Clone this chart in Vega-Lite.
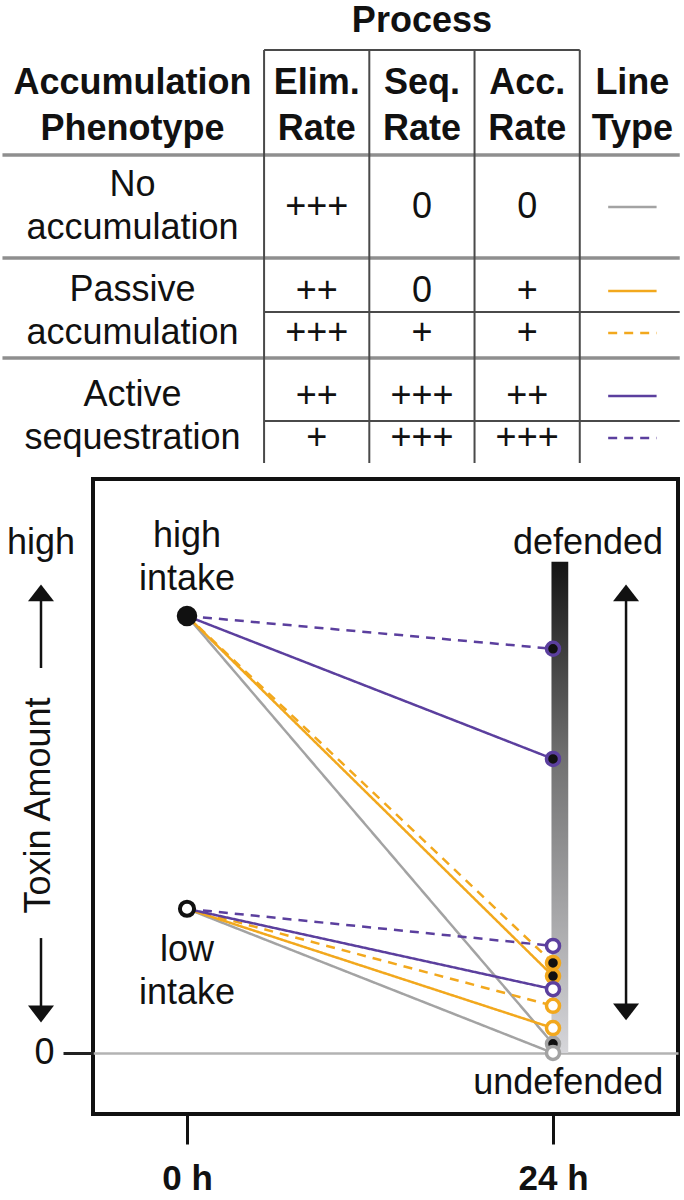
{
  "$schema": "https://vega.github.io/schema/vega-lite/v6.json",
  "padding": 0,
  "bounds": "flush",
  "spacing": 8,
  "background": "white",
  "config": {
    "font": "Liberation Sans",
    "view": {"stroke": null},
    "text": {"fontSize": 36, "color": "#111"},
    "axis": {"labelFont": "Liberation Sans", "titleFont": "Liberation Sans"}
  },
  "datasets": {
    "table": [
      {"phenotype": "No accumulation", "label": "No\naccumulation", "style": "solid", "slot": 1, "elim": "+++", "seq": "0", "acc": "0"},
      {"phenotype": "Passive accumulation", "label": "Passive\naccumulation", "style": "solid", "slot": 2, "elim": "++", "seq": "0", "acc": "+"},
      {"phenotype": "Passive accumulation", "label": "Passive\naccumulation", "style": "dashed", "slot": 2.5, "elim": "+++", "seq": "+", "acc": "+"},
      {"phenotype": "Active sequestration", "label": "Active\nsequestration", "style": "solid", "slot": 3.25, "elim": "++", "seq": "+++", "acc": "++"},
      {"phenotype": "Active sequestration", "label": "Active\nsequestration", "style": "dashed", "slot": 3.75, "elim": "+", "seq": "+++", "acc": "+++"}
    ],
    "lines": [
      {"phenotype": "No accumulation", "style": "solid", "intake": "high", "time": 0, "toxin": 10},
      {"phenotype": "No accumulation", "style": "solid", "intake": "high", "time": 24, "toxin": 0.21},
      {"phenotype": "No accumulation", "style": "solid", "intake": "low", "time": 0, "toxin": 3.3},
      {"phenotype": "No accumulation", "style": "solid", "intake": "low", "time": 24, "toxin": 0},
      {"phenotype": "Passive accumulation", "style": "solid", "intake": "high", "time": 0, "toxin": 10},
      {"phenotype": "Passive accumulation", "style": "solid", "intake": "high", "time": 24, "toxin": 1.76},
      {"phenotype": "Passive accumulation", "style": "solid", "intake": "low", "time": 0, "toxin": 3.3},
      {"phenotype": "Passive accumulation", "style": "solid", "intake": "low", "time": 24, "toxin": 0.57},
      {"phenotype": "Passive accumulation", "style": "dashed", "intake": "high", "time": 0, "toxin": 10},
      {"phenotype": "Passive accumulation", "style": "dashed", "intake": "high", "time": 24, "toxin": 2.06},
      {"phenotype": "Passive accumulation", "style": "dashed", "intake": "low", "time": 0, "toxin": 3.3},
      {"phenotype": "Passive accumulation", "style": "dashed", "intake": "low", "time": 24, "toxin": 1.08},
      {"phenotype": "Active sequestration", "style": "solid", "intake": "high", "time": 0, "toxin": 10},
      {"phenotype": "Active sequestration", "style": "solid", "intake": "high", "time": 24, "toxin": 6.73},
      {"phenotype": "Active sequestration", "style": "solid", "intake": "low", "time": 0, "toxin": 3.3},
      {"phenotype": "Active sequestration", "style": "solid", "intake": "low", "time": 24, "toxin": 1.46},
      {"phenotype": "Active sequestration", "style": "dashed", "intake": "high", "time": 0, "toxin": 10},
      {"phenotype": "Active sequestration", "style": "dashed", "intake": "high", "time": 24, "toxin": 9.25},
      {"phenotype": "Active sequestration", "style": "dashed", "intake": "low", "time": 0, "toxin": 3.3},
      {"phenotype": "Active sequestration", "style": "dashed", "intake": "low", "time": 24, "toxin": 2.45}
    ]
  },
  "vconcat": [
    {
      "width": 585,
      "height": 470,
      "layer": [
        {
          "data": {"values": [{}]},
          "mark": {"type": "rule", "color": "white", "strokeWidth": 1},
          "encoding": {
            "x": {"datum": 0, "type": "quantitative", "scale": {"domain": [-1.1257, 4.4335], "nice": false, "zero": false}, "axis": null},
            "x2": {"datum": 1},
            "y": {"datum": -1.4524, "type": "quantitative", "scale": {"domain": [-1.4524, 4.1429], "reverse": true, "nice": false, "zero": false}, "axis": null}
          }
        },
        {
          "data": {"values": [{}]},
          "mark": {"type": "rule", "color": "#8f8f8f", "strokeWidth": 3.5},
          "encoding": {"x": {"datum": -1.986, "type": "quantitative"}, "x2": {"datum": 4.45}, "y": {"datum": 0.381, "type": "quantitative"}}
        },
        {
          "data": {"values": [{}]},
          "mark": {"type": "rule", "color": "#8f8f8f", "strokeWidth": 3.5},
          "encoding": {"x": {"datum": -1.986, "type": "quantitative"}, "x2": {"datum": 4.45}, "y": {"datum": 1.607, "type": "quantitative"}}
        },
        {
          "data": {"values": [{}]},
          "mark": {"type": "rule", "color": "#8f8f8f", "strokeWidth": 3.5},
          "encoding": {"x": {"datum": -1.986, "type": "quantitative"}, "x2": {"datum": 4.45}, "y": {"datum": 2.798, "type": "quantitative"}}
        },
        {
          "data": {"values": [{}]},
          "mark": {"type": "rule", "color": "#4a4a4a", "strokeWidth": 2},
          "encoding": {"x": {"datum": 0.5, "type": "quantitative"}, "x2": {"datum": 4.45}, "y": {"datum": 2.25, "type": "quantitative"}}
        },
        {
          "data": {"values": [{}]},
          "mark": {"type": "rule", "color": "#4a4a4a", "strokeWidth": 2},
          "encoding": {"x": {"datum": 0.5, "type": "quantitative"}, "x2": {"datum": 4.45}, "y": {"datum": 3.548, "type": "quantitative"}}
        },
        {
          "data": {"values": [{}]},
          "mark": {"type": "rule", "color": "#4a4a4a", "strokeWidth": 2},
          "encoding": {"x": {"datum": 0.5, "type": "quantitative"}, "x2": {"datum": 3.5}, "y": {"datum": -0.869, "type": "quantitative"}}
        },
        {
          "data": {"values": [{}]},
          "mark": {"type": "rule", "color": "#4a4a4a", "strokeWidth": 2},
          "encoding": {"x": {"datum": 0.5, "type": "quantitative"}, "y": {"datum": -0.869, "type": "quantitative"}, "y2": {"datum": 4.048}}
        },
        {
          "data": {"values": [{}]},
          "mark": {"type": "rule", "color": "#4a4a4a", "strokeWidth": 2},
          "encoding": {"x": {"datum": 1.5, "type": "quantitative"}, "y": {"datum": -0.869, "type": "quantitative"}, "y2": {"datum": 4.048}}
        },
        {
          "data": {"values": [{}]},
          "mark": {"type": "rule", "color": "#4a4a4a", "strokeWidth": 2},
          "encoding": {"x": {"datum": 2.5, "type": "quantitative"}, "y": {"datum": -0.869, "type": "quantitative"}, "y2": {"datum": 4.048}}
        },
        {
          "data": {"values": [{}]},
          "mark": {"type": "rule", "color": "#4a4a4a", "strokeWidth": 2},
          "encoding": {"x": {"datum": 3.5, "type": "quantitative"}, "y": {"datum": -0.869, "type": "quantitative"}, "y2": {"datum": 4.048}}
        },
        {
          "data": {"values": [{}]},
          "mark": {"type": "text", "text": "Process", "fontWeight": "bold", "fontSize": 36},
          "encoding": {"x": {"datum": 2, "type": "quantitative"}, "y": {"datum": -1.214, "type": "quantitative"}}
        },
        {
          "data": {"values": [{}]},
          "mark": {"type": "text", "text": "Accumulation\nPhenotype", "lineBreak": "\n", "lineHeight": 46, "dy": -23, "fontWeight": "bold", "fontSize": 36},
          "encoding": {"x": {"datum": -0.75, "type": "quantitative"}, "y": {"datum": -0.2, "type": "quantitative"}}
        },
        {
          "data": {"values": [{}]},
          "mark": {"type": "text", "text": "Elim.\nRate", "lineBreak": "\n", "lineHeight": 46, "dy": -23, "fontWeight": "bold", "fontSize": 36},
          "encoding": {"x": {"datum": 1, "type": "quantitative"}, "y": {"datum": -0.2, "type": "quantitative"}}
        },
        {
          "data": {"values": [{}]},
          "mark": {"type": "text", "text": "Seq.\nRate", "lineBreak": "\n", "lineHeight": 46, "dy": -23, "fontWeight": "bold", "fontSize": 36},
          "encoding": {"x": {"datum": 2, "type": "quantitative"}, "y": {"datum": -0.2, "type": "quantitative"}}
        },
        {
          "data": {"values": [{}]},
          "mark": {"type": "text", "text": "Acc.\nRate", "lineBreak": "\n", "lineHeight": 46, "dy": -23, "fontWeight": "bold", "fontSize": 36},
          "encoding": {"x": {"datum": 3, "type": "quantitative"}, "y": {"datum": -0.2, "type": "quantitative"}}
        },
        {
          "data": {"values": [{}]},
          "mark": {"type": "text", "text": "Line\nType", "lineBreak": "\n", "lineHeight": 46, "dy": -23, "fontWeight": "bold", "fontSize": 36},
          "encoding": {"x": {"datum": 4, "type": "quantitative"}, "y": {"datum": -0.2, "type": "quantitative"}}
        },
        {
          "data": {"name": "table"},
          "mark": {"type": "text", "fontSize": 36},
          "encoding": {"x": {"datum": 1, "type": "quantitative"}, "y": {"field": "slot", "type": "quantitative"}, "text": {"field": "elim"}}
        },
        {
          "data": {"name": "table"},
          "mark": {"type": "text", "fontSize": 36},
          "encoding": {"x": {"datum": 2, "type": "quantitative"}, "y": {"field": "slot", "type": "quantitative"}, "text": {"field": "seq"}}
        },
        {
          "data": {"name": "table"},
          "mark": {"type": "text", "fontSize": 36},
          "encoding": {"x": {"datum": 3, "type": "quantitative"}, "y": {"field": "slot", "type": "quantitative"}, "text": {"field": "acc"}}
        },
        {
          "data": {"name": "table"},
          "transform": [{"aggregate": [{"op": "mean", "field": "slot", "as": "slot"}], "groupby": ["label"]}],
          "mark": {"type": "text", "fontSize": 36, "lineBreak": "\n", "lineHeight": 43, "dy": -21.5},
          "encoding": {"x": {"datum": -0.75, "type": "quantitative"}, "y": {"field": "slot", "type": "quantitative"}, "text": {"field": "label"}}
        },
        {
          "data": {"name": "table"},
          "mark": {"type": "rule", "strokeWidth": 2.5},
          "encoding": {
            "x": {"datum": 3.77, "type": "quantitative"},
            "x2": {"datum": 4.23},
            "y": {"field": "slot", "type": "quantitative"},
            "color": {"field": "phenotype", "type": "nominal", "scale": {"domain": ["No accumulation", "Passive accumulation", "Active sequestration"], "range": ["#a3a3a3", "#f2a81d", "#5b3f9e"]}, "legend": null},
            "strokeDash": {"field": "style", "type": "nominal", "scale": {"domain": ["solid", "dashed"], "range": [[1, 0], [9, 7]]}, "legend": null}
          }
        }
      ]
    },
    {
      "width": 585,
      "height": 635,
      "view": {"stroke": "#111", "strokeWidth": 4},
      "layer": [
        {
          "data": {"values": [{}]},
          "mark": {"type": "rect", "color": {"gradient": "linear", "x1": 0, "y1": 0, "x2": 0, "y2": 1, "stops": [{"offset": 0, "color": "#141414"}, {"offset": 0.4, "color": "#717171"}, {"offset": 1, "color": "#d6d6da"}]}},
          "encoding": {"x": {"datum": 23.9, "type": "quantitative"}, "x2": {"datum": 25.0}, "y": {"datum": 0, "type": "quantitative"}, "y2": {"datum": 11.24}}
        },
        {
          "data": {"name": "lines"},
          "mark": {"type": "line", "strokeWidth": 2.5},
          "encoding": {
            "x": {"field": "time", "type": "quantitative", "scale": {"domain": [-6.164, 32.197], "nice": false, "zero": false},
              "axis": {"values": [0, 24], "labelExpr": "datum.value + ' h'", "title": null, "domain": false, "grid": false, "tickSize": 30, "tickWidth": 3, "tickColor": "#111", "labelFontSize": 35, "labelFontWeight": "bold", "labelColor": "#111", "labelPadding": 17, "labelFlush": false, "labelOverlap": false}},
            "y": {"field": "toxin", "type": "quantitative", "scale": {"domain": [-1.396, 13.135], "nice": false, "zero": false},
              "axis": {"values": [0], "title": "Toxin Amount", "titleX": -55, "titleY": 326, "titleAngle": 270, "titleAlign": "center", "titleBaseline": "middle", "titleFontSize": 36, "titleFontWeight": "normal", "titleColor": "#111", "domain": false, "tickSize": 30, "tickWidth": 3, "tickColor": "#222", "labelFontSize": 36, "labelColor": "#111", "labelPadding": 9, "labelFlush": false, "grid": true, "gridColor": "#b3b3b3", "gridWidth": 2.5}},
            "color": {"field": "phenotype", "type": "nominal", "scale": {"domain": ["No accumulation", "Passive accumulation", "Active sequestration"], "range": ["#a3a3a3", "#f2a81d", "#5b3f9e"]}, "legend": null},
            "strokeDash": {"field": "style", "type": "nominal", "scale": {"domain": ["solid", "dashed"], "range": [[1, 0], [9, 7]]}, "legend": null},
            "detail": {"field": "intake"}
          }
        },
        {
          "data": {"name": "lines"},
          "transform": [{"filter": "datum.time == 24"}],
          "mark": {"type": "point", "shape": "circle", "size": 170, "strokeWidth": 3.5, "opacity": 1},
          "encoding": {
            "x": {"field": "time", "type": "quantitative"},
            "y": {"field": "toxin", "type": "quantitative"},
            "stroke": {"field": "phenotype", "type": "nominal", "scale": {"domain": ["No accumulation", "Passive accumulation", "Active sequestration"], "range": ["#a3a3a3", "#f2a81d", "#5b3f9e"]}, "legend": null},
            "fill": {"field": "intake", "type": "nominal", "scale": {"domain": ["high", "low"], "range": ["#111111", "#ffffff"]}, "legend": null}
          }
        },
        {
          "data": {"name": "lines"},
          "transform": [{"filter": "datum.time == 0 && datum.phenotype == 'No accumulation' && datum.intake == 'high'"}],
          "mark": {"type": "point", "shape": "circle", "size": 420, "filled": true, "color": "#111", "opacity": 1},
          "encoding": {"x": {"field": "time", "type": "quantitative"}, "y": {"field": "toxin", "type": "quantitative"}}
        },
        {
          "data": {"name": "lines"},
          "transform": [{"filter": "datum.time == 0 && datum.phenotype == 'No accumulation' && datum.intake == 'low'"}],
          "mark": {"type": "point", "shape": "circle", "size": 200, "fill": "#ffffff", "stroke": "#111", "strokeWidth": 4, "opacity": 1},
          "encoding": {"x": {"field": "time", "type": "quantitative"}, "y": {"field": "toxin", "type": "quantitative"}}
        },
        {
          "data": {"values": [{}]},
          "mark": {"type": "text", "text": "high\nintake", "lineBreak": "\n", "lineHeight": 43, "dy": -21.5, "fontSize": 36},
          "encoding": {"x": {"datum": 0, "type": "quantitative"}, "y": {"datum": 11.34, "type": "quantitative"}}
        },
        {
          "data": {"values": [{}]},
          "mark": {"type": "text", "text": "low\nintake", "lineBreak": "\n", "lineHeight": 43, "dy": -21.5, "fontSize": 36},
          "encoding": {"x": {"datum": 0, "type": "quantitative"}, "y": {"datum": 1.876, "type": "quantitative"}}
        },
        {
          "data": {"values": [{}]},
          "mark": {"type": "text", "text": "defended", "fontSize": 36},
          "encoding": {"x": {"datum": 26.3, "type": "quantitative"}, "y": {"datum": 11.67, "type": "quantitative"}}
        },
        {
          "data": {"values": [{}]},
          "mark": {"type": "text", "text": "undefended", "fontSize": 36},
          "encoding": {"x": {"datum": 25.0, "type": "quantitative"}, "y": {"datum": -0.687, "type": "quantitative"}}
        },
        {
          "data": {"values": [{}]},
          "mark": {"type": "text", "text": "high", "fontSize": 36},
          "encoding": {"x": {"datum": -9.574, "type": "quantitative"}, "y": {"datum": 11.67, "type": "quantitative"}}
        },
        {
          "data": {"values": [{}]},
          "mark": {"type": "rule", "color": "#111", "strokeWidth": 2.5},
          "encoding": {"x": {"datum": -9.574, "type": "quantitative"}, "y": {"datum": 8.81, "type": "quantitative"}, "y2": {"datum": 10.53}}
        },
        {
          "data": {"values": [{}]},
          "mark": {"type": "rule", "color": "#111", "strokeWidth": 2.5},
          "encoding": {"x": {"datum": -9.574, "type": "quantitative"}, "y": {"datum": 0.892, "type": "quantitative"}, "y2": {"datum": 2.63}}
        },
        {
          "data": {"values": [{}]},
          "mark": {"type": "rule", "color": "#111", "strokeWidth": 2.5},
          "encoding": {"x": {"datum": 28.79, "type": "quantitative"}, "y": {"datum": 0.94, "type": "quantitative"}, "y2": {"datum": 10.53}}
        },
        {
          "data": {"values": [{}]},
          "mark": {"type": "point", "shape": "M-1,0.65L0,-0.65L1,0.65Z", "size": 676, "filled": true, "color": "#111", "opacity": 1},
          "encoding": {"x": {"datum": -9.574, "type": "quantitative"}, "y": {"datum": 10.53, "type": "quantitative"}}
        },
        {
          "data": {"values": [{}]},
          "mark": {"type": "point", "shape": "M-1,-0.65L0,0.65L1,-0.65Z", "size": 676, "filled": true, "color": "#111", "opacity": 1},
          "encoding": {"x": {"datum": -9.574, "type": "quantitative"}, "y": {"datum": 0.892, "type": "quantitative"}}
        },
        {
          "data": {"values": [{}]},
          "mark": {"type": "point", "shape": "M-1,0.65L0,-0.65L1,0.65Z", "size": 676, "filled": true, "color": "#111", "opacity": 1},
          "encoding": {"x": {"datum": 28.79, "type": "quantitative"}, "y": {"datum": 10.53, "type": "quantitative"}}
        },
        {
          "data": {"values": [{}]},
          "mark": {"type": "point", "shape": "M-1,-0.65L0,0.65L1,-0.65Z", "size": 676, "filled": true, "color": "#111", "opacity": 1},
          "encoding": {"x": {"datum": 28.79, "type": "quantitative"}, "y": {"datum": 0.94, "type": "quantitative"}}
        }
      ]
    }
  ]
}
